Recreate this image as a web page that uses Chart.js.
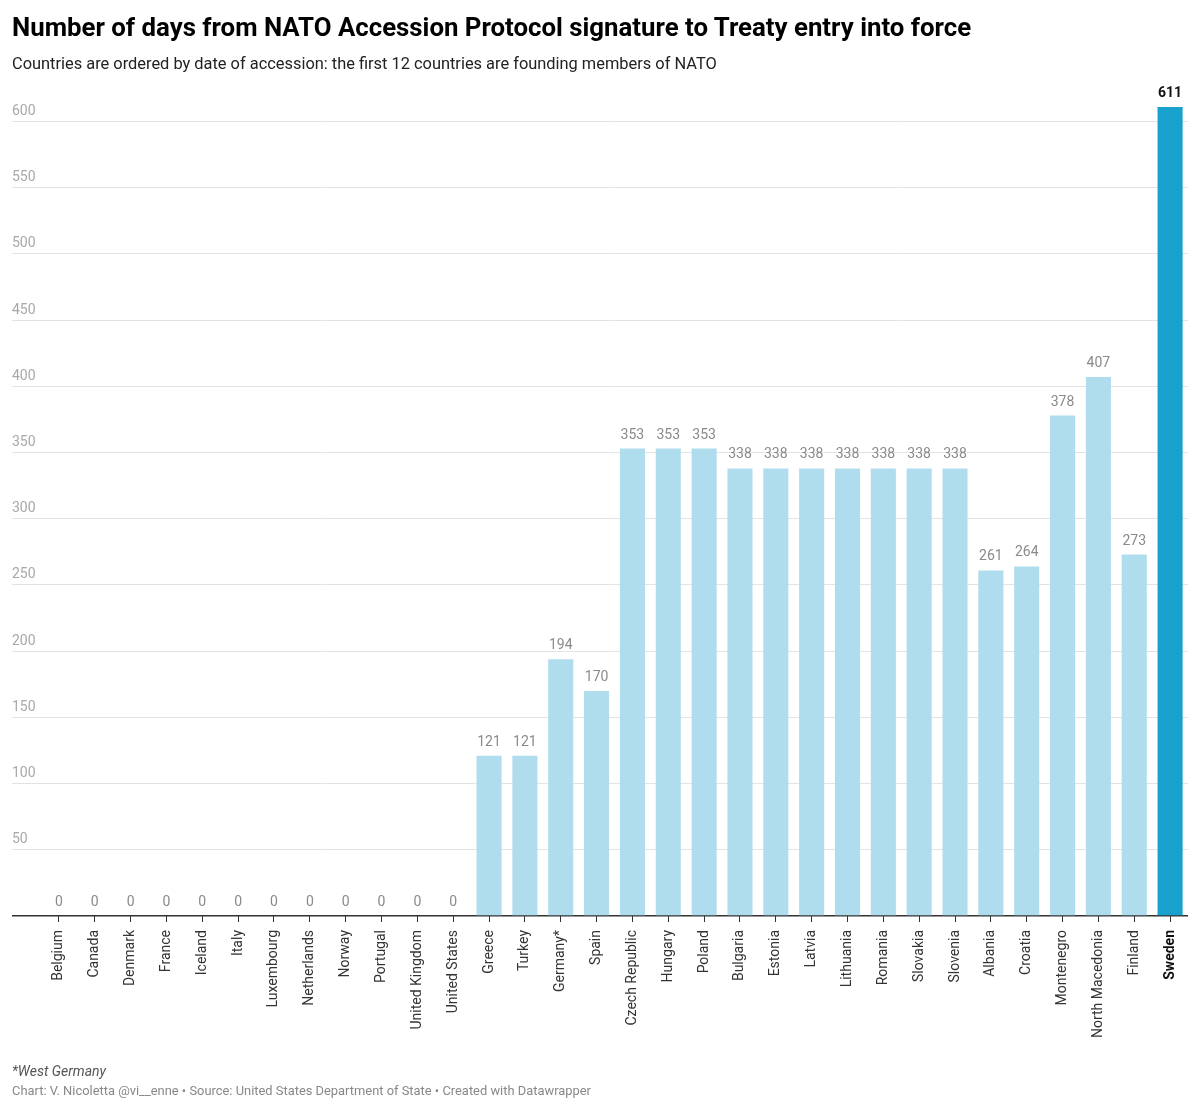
<!DOCTYPE html>
<html>
<head>
<meta charset="utf-8">
<script src="https://cdn.jsdelivr.net/npm/chart.js@4.4.1/dist/chart.umd.min.js"></script>
<style>
  html, body { margin: 0; padding: 0; background: #fff; }
  body { width: 1200px; height: 1112px; position: relative; overflow: hidden; font-family: Roboto, sans-serif; }
  #wrap { position: absolute; left: 0; top: 0; width: 1200px; height: 1112px; }
  .t { position: absolute; left: 12px; line-height: 1; white-space: nowrap; margin: 0; }
  #title { top: 15px; font-size: 25.8px; font-weight: 700; color: #000; }
  #sub { top: 56px; font-size: 16.4px; color: #222; }
  #note { top: 1064px; font-size: 14px; font-style: italic; color: #555; }
  #src { top: 1085px; font-size: 12.9px; color: #888; }
</style>
</head>
<body>
<div id="wrap"><canvas id="c"></canvas></div>
<h1 class="t" id="title">Number of days from NATO Accession Protocol signature to Treaty entry into force</h1>
<p class="t" id="sub">Countries are ordered by date of accession: the first 12 countries are founding members of NATO</p>
<p class="t" id="note">*West Germany</p>
<p class="t" id="src">Chart: V. Nicoletta @vi__enne • Source: United States Department of State • Created with Datawrapper</p>
<script>
const countries = ["Belgium","Canada","Denmark","France","Iceland","Italy","Luxembourg","Netherlands","Norway","Portugal","United Kingdom","United States","Greece","Turkey","Germany*","Spain","Czech Republic","Hungary","Poland","Bulgaria","Estonia","Latvia","Lithuania","Romania","Slovakia","Slovenia","Albania","Croatia","Montenegro","North Macedonia","Finland","Sweden"];
const days = [0,0,0,0,0,0,0,0,0,0,0,0,121,121,194,170,353,353,353,338,338,338,338,338,338,338,261,264,378,407,273,611];
const highlight = "Sweden";
const yMax = 611;
const yStep = 50;

const LIGHT = "#b0ddee";
const DARK = "#18a1cd";

const valueLabels = {
  id: "valueLabels",
  afterDatasetsDraw(chart) {
    const ctx = chart.ctx;
    const meta = chart.getDatasetMeta(0);
    ctx.save();
    ctx.textAlign = "center";
    ctx.textBaseline = "alphabetic";
    meta.data.forEach((bar, i) => {
      const hi = countries[i] === highlight;
      ctx.font = (hi ? "700 " : "400 ") + "14px Roboto";
      ctx.fillStyle = hi ? "#111" : "#8a8a8a";
      ctx.fillText(String(days[i]), bar.x, bar.y - 10);
    });
    ctx.restore();
  }
};

new Chart(document.getElementById("c"), {
  type: "bar",
  data: {
    labels: countries,
    datasets: [{
      data: days,
      backgroundColor: countries.map(c => c === highlight ? DARK : LIGHT),
      borderWidth: 0,
      barPercentage: 0.70,
      categoryPercentage: 1.0
    }]
  },
  options: {
    responsive: true,
    maintainAspectRatio: false,
    animation: false,
    devicePixelRatio: 1,
    layout: { padding: { left: 12, right: 12, top: 107, bottom: 66 } },
    plugins: { legend: { display: false }, tooltip: { enabled: false } },
    scales: {
      x: {
        border: { display: false },
        grid: { offset: false, drawOnChartArea: false, drawTicks: true, tickLength: 6, color: "#333", lineWidth: 1 },
        ticks: {
          autoSkip: false,
          minRotation: 90,
          maxRotation: 90,
          padding: 8,
          color: (ctx) => countries[ctx.index] === highlight ? "#111" : "#333",
          font: (ctx) => ({ family: "Roboto", size: 14, weight: countries[ctx.index] === highlight ? "700" : "400" })
        },
        afterFit: (s) => { s.height = 130; }
      },
      y: {
        min: 0,
        max: yMax,
        border: { display: false },
        grid: {
          drawTicks: true,
          tickLength: 29,
          color: (ctx) => ctx.tick && ctx.tick.value === 0 ? "#333" : "#e3e3e3",
          lineWidth: (ctx) => ctx.tick && ctx.tick.value === 0 ? 1.5 : 1
        },
        ticks: {
          stepSize: yStep,
          includeBounds: false,
          crossAlign: "far",
          padding: 0,
          labelOffset: -10,
          color: "#a8a8a8",
          font: { family: "Roboto", size: 14 },
          callback: (v) => v === 0 ? "" : String(v)
        },
        afterFit: (s) => { s.width = 29; }
      }
    }
  },
  plugins: [valueLabels]
});
</script>
</body>
</html>
